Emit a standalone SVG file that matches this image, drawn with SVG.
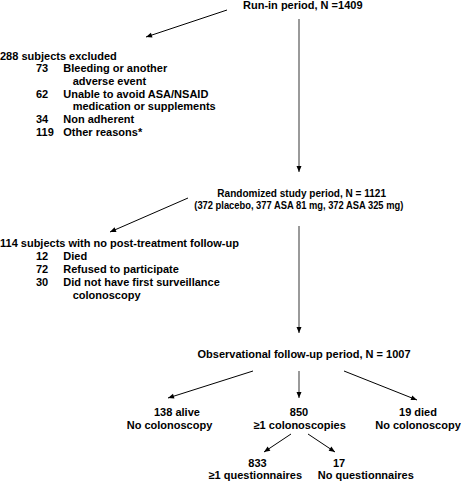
<svg xmlns="http://www.w3.org/2000/svg" width="461" height="482" viewBox="0 0 461 482">
<style>
text{font-family:"Liberation Sans",Arial,sans-serif;font-weight:bold;font-size:11px;fill:#000}
.m{text-anchor:middle}
.v{stroke:#9a9a9a;stroke-width:2;fill:none}
.d{stroke:#000;stroke-width:1;fill:none}
</style>
<defs>
<marker id="ah" markerUnits="userSpaceOnUse" markerWidth="6" markerHeight="5" refX="6" refY="2.5" orient="auto" overflow="visible">
<path d="M0,0 L6,2.5 L0,5 z" fill="#000"/>
</marker>
</defs>
<rect width="461" height="482" fill="#fff"/>
<g id="connectors">
<line class="v" x1="299" y1="19" x2="299" y2="172" marker-end="url(#ah)"/>
<line class="v" x1="299" y1="226" x2="299" y2="333" marker-end="url(#ah)"/>
<line class="v" x1="299" y1="371" x2="299" y2="398" marker-end="url(#ah)"/>
<line class="d" x1="227" y1="10" x2="146" y2="37" marker-end="url(#ah)"/>
<line class="d" x1="188" y1="198" x2="110" y2="232" marker-end="url(#ah)"/>
<line class="d" x1="253" y1="371" x2="168" y2="398" marker-end="url(#ah)"/>
<line class="d" x1="344" y1="371" x2="417" y2="400" marker-end="url(#ah)"/>
<line class="d" x1="291" y1="434" x2="264" y2="452" marker-end="url(#ah)"/>
<line class="d" x1="308" y1="434" x2="335" y2="452" marker-end="url(#ah)"/>
</g>
<g id="runin">
<text x="243" y="9">Run-in period, N =1409</text>
</g>
<g id="excluded">
<text x="0" y="59.5">288 subjects excluded</text>
<text x="36" y="72.2">73</text><text x="63.3" y="72.2">Bleeding or another</text>
<text x="72.7" y="84.9">adverse event</text>
<text x="36" y="97.6">62</text><text x="63.3" y="97.6">Unable to avoid ASA/NSAID</text>
<text x="72.7" y="110.3">medication or supplements</text>
<text x="36" y="123">34</text><text x="63.3" y="123">Non adherent</text>
<text x="36" y="135.7">119</text><text x="63.3" y="135.7">Other reasons*</text>
</g>
<g id="randomized">
<text x="217.3" y="196.5" textLength="168.7" lengthAdjust="spacingAndGlyphs">Randomized study period, N = 1121</text>
<text x="194.3" y="209" textLength="209" lengthAdjust="spacingAndGlyphs">(372 placebo, 377 ASA 81 mg, 372 ASA 325 mg)</text>
</g>
<g id="nofollowup">
<text x="0" y="246.5">114 subjects with no post-treatment follow-up</text>
<text x="36" y="259.5">12</text><text x="63.3" y="259.5">Died</text>
<text x="36" y="272.5">72</text><text x="63.3" y="272.5">Refused to participate</text>
<text x="36" y="285.5">30</text><text x="63.3" y="285.5">Did not have first surveillance</text>
<text x="72.7" y="298.5">colonoscopy</text>
</g>
<g id="observational">
<text class="m" x="304" y="358">Observational follow-up period, N = 1007</text>
</g>
<g id="alive">
<text x="154" y="416">138 alive</text>
<text x="126.7" y="428.5">No colonoscopy</text>
</g>
<g id="colonoscopies">
<text class="m" x="299" y="416">850</text>
<text class="m" x="299.7" y="428.5">≥1 colonoscopies</text>
</g>
<g id="died">
<text class="m" x="418" y="416">19 died</text>
<text class="m" x="418" y="428.5">No colonoscopy</text>
</g>
<g id="questionnaires">
<text class="m" x="257.5" y="466.5">833</text>
<text class="m" x="255.3" y="479">≥1 questionnaires</text>
</g>
<g id="noquestionnaires">
<text class="m" x="339" y="466.5">17</text>
<text class="m" x="365.8" y="479">No questionnaires</text>
</g>
</svg>
